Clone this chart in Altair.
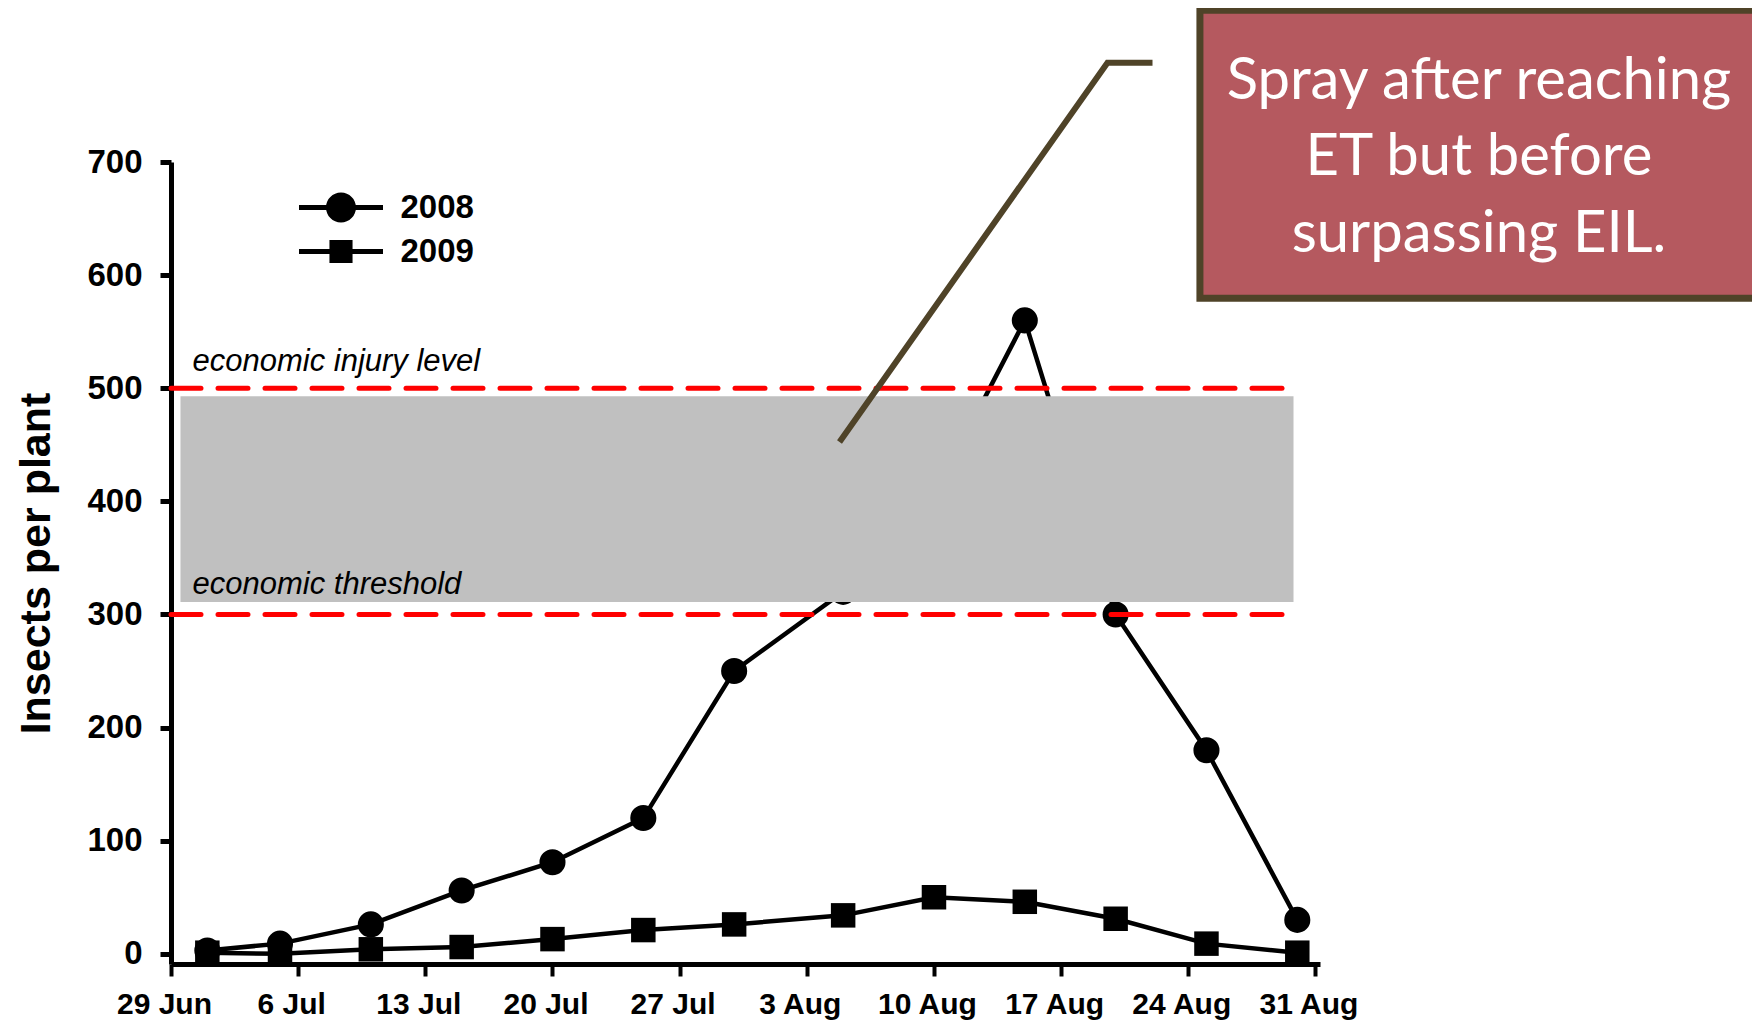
import altair as alt
import pandas as pd

# ---------------- data ----------------
sample_dates = ["2009-07-01", "2009-07-05", "2009-07-10", "2009-07-15", "2009-07-20",
                "2009-07-25", "2009-07-30", "2009-08-05", "2009-08-10", "2009-08-15",
                "2009-08-20", "2009-08-25", "2009-08-30"]
insects_2008 = [3, 9, 26, 56, 81, 120, 250, 320, 405, 560, 300, 180, 30]
insects_2009 = [1, 0, 4, 6, 13, 21, 26, 34, 50, 46, 31, 9, 1]
series_names = ["2008", "2009"]

x_tick_dates = [(6, 29), (7, 6), (7, 13), (7, 20), (7, 27),
                (8, 3), (8, 10), (8, 17), (8, 24), (8, 31)]
y_tick_values = [0, 100, 200, 300, 400, 500, 600, 700]

threshold_values = [500, 300]
threshold_labels = ["economic injury level", "economic threshold"]

callout_text = ["Spray after reaching", "ET but before", "surpassing EIL."]

# annotation anchors (data units: date, insects per plant)
band_x = ["2009-06-29T12:30:00", "2009-08-29T19:00:00"]
band_y = [311, 493]
rule_x = ["2009-06-29T00:00:00", "2009-08-29T16:20:00"]
leader_x = ["2009-08-04T19:12:00", "2009-08-19T13:12:00", "2009-08-22T00:43:00"]
leader_y = [452.5, 787.8, 787.8]
box_x = ["2009-08-24T15:22:00", "2009-10-30T00:00:00"]
box_y = [579.6, 834.2]
callout_anchor = ("2009-09-09T00:00:00", 756.0)

# ---------------- build tables ----------------
rows = []
for name, vals in zip(series_names, [insects_2008, insects_2009]):
    for d, v in zip(sample_dates, vals):
        rows.append({"date": d + "T00:00:00", "year": name, "insects": v})
df = pd.DataFrame(rows)

FONT = "Liberation Sans"
BROWN = "#4f4328"

x_scale = alt.Scale(domain=[alt.DateTime(year=2009, month=6, date=29),
                            alt.DateTime(year=2009, month=8, date=31, hours=6)],
                    nice=False)
y_scale = alt.Scale(domain=[-9, 700], nice=False, zero=False)

x_axis = alt.Axis(values=[alt.DateTime(year=2009, month=m, date=d) for m, d in x_tick_dates],
                  format="%-d %b", labelFlush=False, labelOverlap=False,
                  domainWidth=5, domainColor="black", tickWidth=4, tickSize=12,
                  tickColor="black", labelFont=FONT, labelFontWeight="bold",
                  labelFontSize=30, labelColor="black", labelPadding=13,
                  labelOffset=-7, grid=False, title=None)
y_axis = alt.Axis(values=y_tick_values, domainWidth=5, domainColor="black",
                  tickWidth=5, tickSize=11, tickColor="black", labelFont=FONT,
                  labelFontWeight="bold", labelFontSize=33, labelColor="black",
                  labelPadding=18, labelFlush=False, grid=False,
                  title="Insects per plant", titleFont=FONT, titleFontSize=43,
                  titleFontWeight="bold", titleColor="black", titlePadding=28)


def X(field):
    return alt.X(field, type="temporal", scale=x_scale, axis=x_axis)


def Y(field):
    return alt.Y(field, type="quantitative", scale=y_scale, axis=y_axis)


base = alt.Chart(df)

lines = base.mark_line(color="black", strokeWidth=4.5).encode(
    x=X("date"), y=Y("insects"), detail="year:N")

circles = base.transform_filter(alt.datum.year == "2008").mark_point(
    shape="circle", filled=True, color="black", opacity=1, size=680).encode(
    x=X("date"), y=Y("insects"))

squares = base.transform_filter(alt.datum.year == "2009").mark_point(
    shape="square", filled=True, color="black", opacity=1, size=600).encode(
    x=X("date"), y=Y("insects"))

bar_path = "M-2.8,-0.17L2.8,-0.17L2.8,0.17L-2.8,0.17Z"
circle_path = bar_path + "M1,0A1,1,0,1,1,-1,0A1,1,0,1,1,1,0Z"
square_path = bar_path + "M-0.77,-0.77L0.77,-0.77L0.77,0.77L-0.77,0.77Z"

legend_layer = base.transform_filter("false").mark_point(
    filled=True, color="black").encode(
    x=X("date"), y=Y("insects"),
    shape=alt.Shape("year:N",
                    scale=alt.Scale(domain=series_names, range=[circle_path, square_path]),
                    legend=alt.Legend(orient="none", legendX=153.5, legendY=29,
                                      title=None, labelFont=FONT, labelFontWeight="bold",
                                      labelFontSize=33, labelColor="black",
                                      symbolSize=900, symbolStrokeWidth=0,
                                      symbolFillColor="black", symbolOpacity=1,
                                      labelOffset=43, rowPadding=10, padding=0)))

band = alt.Chart(pd.DataFrame({"x": [band_x[0]], "x2": [band_x[1]],
                               "y": [band_y[0]], "y2": [band_y[1]]})).mark_rect(
    color="#c0c0c0").encode(x=X("x"), x2="x2:T", y=Y("y"), y2="y2:Q")

rules = alt.Chart(pd.DataFrame({"x": [rule_x[0]] * 2, "x2": [rule_x[1]] * 2,
                                "y": threshold_values})).mark_rule(
    color="#ff0000", strokeWidth=5, strokeDash=[30, 17], strokeCap="round").encode(
    x=X("x"), x2="x2:T", y=Y("y"))

label_dy = [-17, -20]
labels = []
for val, txt, dy in zip(threshold_values, threshold_labels, label_dy):
    labels.append(alt.Chart(pd.DataFrame({"x": [rule_x[0]], "y": [val], "t": [txt]})).mark_text(
        font=FONT, fontStyle="italic", fontSize=31, color="black", align="left",
        baseline="alphabetic", dx=21.5, dy=dy).encode(x=X("x"), y=Y("y"), text="t:N"))

leader = alt.Chart(pd.DataFrame({"x": leader_x, "y": leader_y, "o": [0, 1, 2]})).mark_line(
    color=BROWN, strokeWidth=6, strokeCap="butt").encode(x=X("x"), y=Y("y"), order="o:Q")

box = alt.Chart(pd.DataFrame({"x": [box_x[0]], "x2": [box_x[1]],
                              "y": [box_y[0]], "y2": [box_y[1]]})).mark_rect(
    fill="#b5595f", stroke=BROWN, strokeWidth=7).encode(
    x=X("x"), x2="x2:T", y=Y("y"), y2="y2:Q")

callout = alt.Chart(pd.DataFrame({"x": [callout_anchor[0]], "y": [callout_anchor[1]]})).mark_text(
    text=callout_text, font="Lato", fontSize=58, color="white", align="center",
    baseline="alphabetic", lineHeight=76.5).encode(x=X("x"), y=Y("y"))

chart = alt.layer(lines, circles, squares, legend_layer, band, rules, *labels,
                  leader, box, callout).properties(
    width=1149, height=802,
    autosize=alt.AutoSizeParams(type="none"),
    padding={"left": 163, "top": 154, "right": 432, "bottom": 57},
    background="white",
).configure_view(stroke=None)

chart.save("out.html", embed_options={"renderer": "svg", "actions": False})
